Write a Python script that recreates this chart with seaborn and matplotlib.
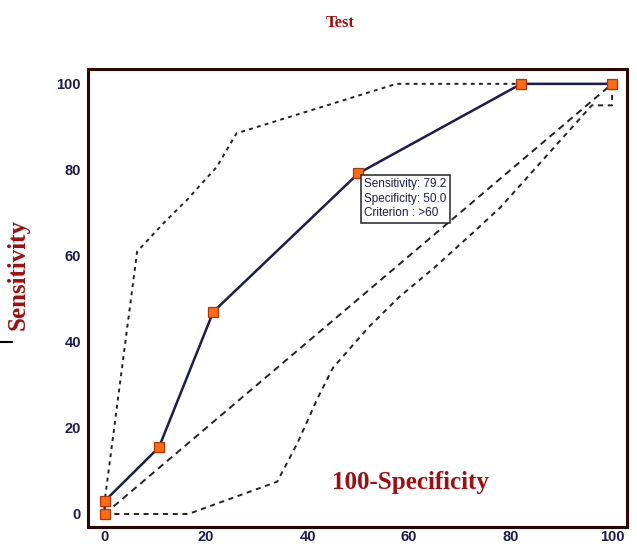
import matplotlib
matplotlib.use("Agg")
import matplotlib.pyplot as plt
import seaborn as sns
from matplotlib.lines import Line2D
from matplotlib.ticker import MultipleLocator

# ROC curve (100-specificity vs sensitivity)
roc_x = [0, 0, 10.7, 21.4, 50.0, 82.1, 100]
roc_y = [0, 3.0, 15.5, 47.0, 79.2, 100, 100]

# confidence bounds
upper_x = [0, 0, 6.4, 11.6, 16.2, 22.1, 26.0, 57.5, 82.1]
upper_y = [0, 3.0, 61.0, 67.6, 73.0, 80.7, 88.5, 100, 100]
lower_x = [0, 16.5, 34.0, 38.0, 42.0, 45.0, 52.0, 58.0, 65.0, 72.5, 78.0, 96.0, 100, 100]
lower_y = [0, 0, 7.5, 16.5, 27.0, 34.0, 43.4, 50.4, 57.3, 65.3, 71.3, 95.0, 95.0, 100]

# reference diagonal
diag_x = [0, 100]
diag_y = [0, 100]

ticks = [0, 20, 40, 60, 80, 100]

RED = "#a30d0d"
NAVY = "#1c1c50"
SPINE = "#2e0505"

sns.set_style("white")
plt.rcParams["font.family"] = ["Liberation Sans", "DejaVu Sans"]

fig = plt.figure(figsize=(6.37, 5.46), dpi=100)
ax = fig.add_axes([0.138, 0.035, 0.846, 0.839])

sns.lineplot(x=diag_x, y=diag_y, sort=False, estimator=None, ax=ax,
             color="#222222", lw=1.4, linestyle=(0, (3.5, 2.5)))
sns.lineplot(x=upper_x, y=upper_y, sort=False, estimator=None, ax=ax,
             color="#222222", lw=1.4, linestyle=(0, (2, 2.2)))
sns.lineplot(x=lower_x, y=lower_y, sort=False, estimator=None, ax=ax,
             color="#222222", lw=1.4, linestyle=(0, (2.6, 2.4)))
sns.lineplot(x=roc_x, y=roc_y, sort=False, estimator=None, ax=ax,
             color=NAVY, lw=1.8, marker="s", markersize=7.5,
             markerfacecolor="#ff6a12", markeredgecolor="#b83200",
             markeredgewidth=0.9)

ax.set_xlim(-3.3, 102.9)
ax.set_ylim(-3.0, 103.5)
ax.set_xticks(ticks)
ax.set_yticks(ticks)
ax.xaxis.set_minor_locator(MultipleLocator(5))
ax.yaxis.set_minor_locator(MultipleLocator(5))
ax.set_xlabel("")
ax.set_ylabel("")

for s in ax.spines.values():
    s.set_color(SPINE)
    s.set_linewidth(2.2)

ax.tick_params(axis="both", which="both", direction="in", color=SPINE,
               width=1.9, labelcolor=NAVY, labelsize=10.5)
ax.tick_params(axis="y", which="major", length=12, pad=5)
ax.tick_params(axis="y", which="minor", length=6.5)
ax.tick_params(axis="x", which="major", length=8.5, pad=2.5)
ax.tick_params(axis="x", which="minor", length=4)
ax.tick_params(top=False, right=False, which="both")
for lab in ax.get_xticklabels() + ax.get_yticklabels():
    lab.set_fontweight("bold")

# criterion tooltip
ax.text(51.2, 78.0, "Sensitivity: 79.2\nSpecificity: 50.0\nCriterion : >60",
        ha="left", va="top", fontsize=8.5, color=NAVY, linespacing=1.25,
        bbox=dict(boxstyle="square,pad=0.3", fc="white", ec="#222222", lw=1.1))

ax.text(60.2, 7.4, "100-Specificity", ha="center", va="center",
        fontsize=18, fontweight="bold", color=RED, family="Liberation Serif")

fig.text(0.534, 0.958, "Test", ha="center", va="center", fontsize=12,
         fontweight="bold", color=RED, family="Liberation Serif")
fig.text(0.028, 0.498, "Sensitivity", ha="center", va="center", rotation=90,
         fontsize=18, fontweight="bold", color=RED, family="Liberation Serif")

# small stray dash at left margin
fig.add_artist(Line2D([0.0, 0.019], [1 - 342 / 546, 1 - 342 / 546],
                      color="black", lw=1.5, transform=fig.transFigure))

fig.savefig("out.png", dpi=100, facecolor="white")
